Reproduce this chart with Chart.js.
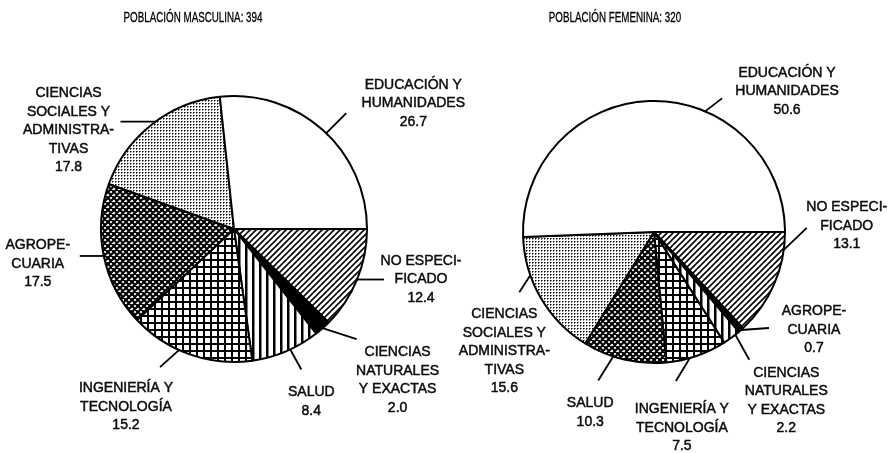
<!DOCTYPE html>
<html>
<head>
<meta charset="utf-8">
<script src="https://cdn.jsdelivr.net/npm/chart.js@4.4.0/dist/chart.umd.min.js"></script>
<style>
  html, body { margin: 0; padding: 0; background: #fff; }
  #wrap { position: relative; width: 896px; height: 453px; }
  canvas { position: absolute; top: 0; left: 0; }
</style>
</head>
<body>
<div id="wrap">
  <canvas id="male" width="896" height="453"></canvas>
  <canvas id="female" width="896" height="453"></canvas>
</div>
<script>
// data, slices listed clockwise starting at 3 o'clock
const maleTitle = 'POBLACIÓN MASCULINA: 394';
const maleCategories = [
  ['NO ESPECI-', 'FICADO'],
  ['CIENCIAS', 'NATURALES', 'Y EXACTAS'],
  ['SALUD'],
  ['INGENIERÍA Y', 'TECNOLOGÍA'],
  ['AGROPE-', 'CUARIA'],
  ['CIENCIAS', 'SOCIALES Y', 'ADMINISTRA-', 'TIVAS'],
  ['EDUCACIÓN Y', 'HUMANIDADES']
];
const maleValues = [12.4, 2.0, 8.4, 15.2, 17.5, 17.8, 26.7];

const femaleTitle = 'POBLACIÓN FEMENINA: 320';
const femaleCategories = [
  ['NO ESPECI-', 'FICADO'],
  ['AGROPE-', 'CUARIA'],
  ['CIENCIAS', 'NATURALES', 'Y EXACTAS'],
  ['INGENIERÍA Y', 'TECNOLOGÍA'],
  ['SALUD'],
  ['CIENCIAS', 'SOCIALES Y', 'ADMINISTRA-', 'TIVAS'],
  ['EDUCACIÓN Y', 'HUMANIDADES']
];
const femaleValues = [13.1, 0.7, 2.2, 7.5, 10.3, 15.6, 50.6];

// label placement: [angle shift deg, leader dx, leader dy, text dx, text dy]
const maleLabelLayout = [
  [0, 27, 0, 37, 0],
  [0, 34, 11, 41, 41],
  [-2, 11, 20, 10, 32],
  [5, -19, 17, -34, 40],
  [0, -24, 0, -42, 8],
  [2, -35, 0, -52, 9],
  [2, 20, -20, 67, -10]
];
const femaleLabelLayout = [
  [-15.7, 23, -22, 40, -2],
  [0, 28, -2, 45, 2],
  [-2, 14, 25, 37, 41],
  [3, -14, 23, 6, 47],
  [5, -15, 24, -8, 32],
  [11, -11, 17, -15, 59],
  [24, 17, -13, 65, -7]
];

// fill patterns, same sequence for both pies
function makePattern(kind) {
  const c = document.createElement('canvas');
  const x = c.getContext('2d');
  let s = 6;
  if (kind === 'vert' || kind === 'grid') s = 7;
  if (kind === 'dots') s = 3;
  c.width = s; c.height = s;
  x.fillStyle = '#fff';
  x.fillRect(0, 0, s, s);
  x.strokeStyle = '#000';
  x.fillStyle = '#000';
  if (kind === 'slash') {
    x.lineWidth = 1.6;
    x.beginPath();
    x.moveTo(-1, s + 1); x.lineTo(s + 1, -1);
    x.moveTo(-1, 1); x.lineTo(1, -1);
    x.moveTo(s - 1, s + 1); x.lineTo(s + 1, s - 1);
    x.stroke();
  } else if (kind === 'vert') {
    x.fillRect(0, 0, 2.5, s);
  } else if (kind === 'grid') {
    x.fillRect(0, 0, 2, s);
    x.fillRect(0, 0, s, 2);
  } else if (kind === 'cross') {
    x.lineWidth = 2.2;
    x.beginPath();
    x.moveTo(-1, s + 1); x.lineTo(s + 1, -1);
    x.moveTo(-1, -1); x.lineTo(s + 1, s + 1);
    x.moveTo(-1, 1); x.lineTo(1, -1);
    x.moveTo(s - 1, s + 1); x.lineTo(s + 1, s - 1);
    x.moveTo(s - 1, -1); x.lineTo(s + 1, 1);
    x.moveTo(-1, s - 1); x.lineTo(1, s + 1);
    x.stroke();
  } else if (kind === 'dots') {
    x.fillRect(1, 1, 1, 1);
    x.fillStyle = '#777';
    x.fillRect(2, 1, 1, 1);
    x.fillRect(1, 2, 1, 1);
  }
  return x.createPattern(c, 'repeat');
}

const sliceFills = [
  makePattern('slash'), '#000', makePattern('vert'), makePattern('grid'),
  makePattern('cross'), makePattern('dots'), '#fff'
];

// leader lines, category text and title
const pieLabels = {
  id: 'pieLabels',
  afterDraw(chart, args, opts) {
    const ctx = chart.ctx;
    const meta = chart.getDatasetMeta(0);
    const cats = chart.data.labels;
    const vals = chart.data.datasets[0].data;
    ctx.save();
    ctx.strokeStyle = '#000';
    ctx.fillStyle = '#111';
    ctx.textAlign = 'center';
    ctx.textBaseline = 'middle';
    ctx.font = '14px "Liberation Sans", Arial, sans-serif';
    const lh = 18.5;
    meta.data.forEach((arc, i) => {
      const [shift, ldx, ldy, tdx, tdy] = opts.layout[i];
      const a = (arc.startAngle + arc.endAngle) / 2 + shift * Math.PI / 180;
      const r = arc.outerRadius;
      const sx = arc.x + r * Math.cos(a);
      const sy = arc.y + r * Math.sin(a);
      const ex = sx + ldx, ey = sy + ldy;
      ctx.lineWidth = 1.8;
      ctx.beginPath();
      ctx.moveTo(sx, sy);
      ctx.lineTo(ex, ey);
      ctx.stroke();
      const lines = cats[i].concat([vals[i].toFixed(1)]);
      const top = ey + tdy - (lines.length - 1) * lh / 2;
      ctx.lineWidth = 0.45;
      lines.forEach((t, k) => {
        ctx.fillText(t, ex + tdx, top + k * lh);
        ctx.strokeText(t, ex + tdx, top + k * lh);
      });
    });
    // title in a narrow face, like the original
    ctx.fillStyle = '#000';
    ctx.font = '14px "Liberation Sans", Arial, sans-serif';
    ctx.translate(opts.titleX, 18);
    ctx.scale(0.7, 1);
    ctx.lineWidth = 0.3;
    ctx.fillText(opts.title, 0, 0);
    ctx.strokeText(opts.title, 0, 0);
    ctx.restore();
  }
};

function makePie(id, cats, vals, layout, title, titleX, padding) {
  new Chart(document.getElementById(id).getContext('2d'), {
    type: 'pie',
    data: {
      labels: cats,
      datasets: [{
        data: vals,
        backgroundColor: sliceFills,
        borderColor: '#000',
        borderWidth: 2
      }]
    },
    options: {
      responsive: false,
      animation: false,
      rotation: 90,
      layout: { padding: padding },
      plugins: {
        legend: { display: false },
        tooltip: { enabled: false },
        pieLabels: { layout: layout, title: title, titleX: titleX }
      }
    },
    plugins: [pieLabels]
  });
}

makePie('male', maleCategories, maleValues, maleLabelLayout, maleTitle, 193,
  { left: 100, right: 528, top: 95, bottom: 90 });
makePie('female', femaleCategories, femaleValues, femaleLabelLayout, femaleTitle, 615,
  { left: 522, right: 110, top: 100, bottom: 89 });
</script>
</body>
</html>
